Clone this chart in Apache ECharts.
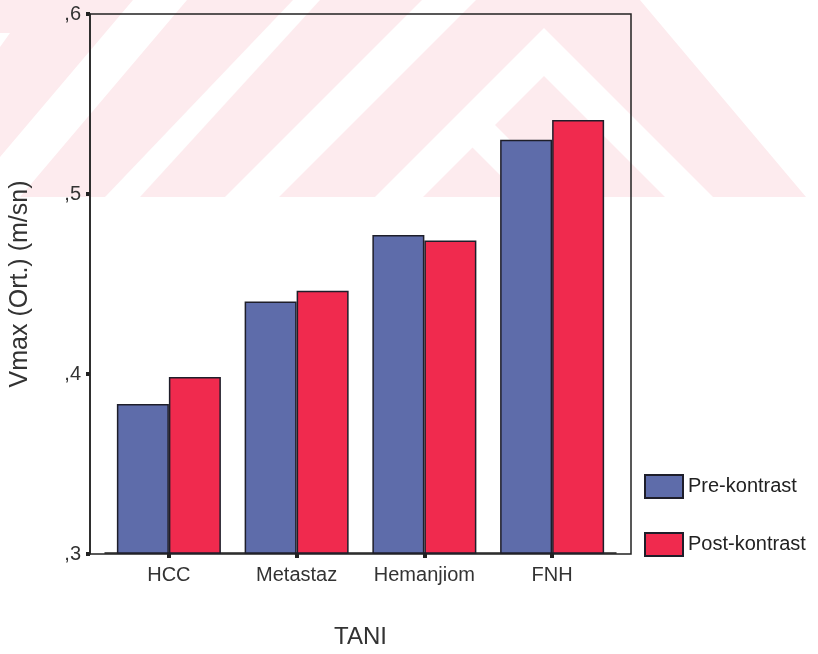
<!DOCTYPE html>
<html>
<head>
<meta charset="utf-8">
<title>Vmax - TANI</title>
<script src="https://cdn.jsdelivr.net/npm/echarts@6/dist/echarts.min.js"></script>
<style>
    html, body { margin: 0; padding: 0; background: #fff; }
    #chart { width: 818px; height: 654px; }
</style>
</head>
<body>
<div id="chart"></div>
<script>
var categories = ['HCC', 'Metastaz', 'Hemanjiom', 'FNH'];
var preKontrast = [0.383, 0.440, 0.477, 0.530];
var postKontrast = [0.398, 0.446, 0.474, 0.541];
var yTickLabels = { 3: ',3', 4: ',4', 5: ',5', 6: ',6' };

var font = '"Liberation Sans", Arial, sans-serif';
var ink = '#222';

// faint scan watermark behind the plot (decoration only)
var pink = '#fdebee';
var watermark = [
    [[0, 0], [640, 0], [806, 197], [0, 197]]
];
var whiteCuts = [
    [[0, 33], [10, 33], [0, 47]],
    [[133, 0], [187, 0], [20, 197], [-34, 197]],
    [[293, 0], [320, 0], [140, 197], [105, 197]],
    [[422, 0], [476, 0], [279, 197], [225, 197]],
    [[375, 197], [544, 28], [713, 197], [665, 197], [544, 76], [423, 197]],
    [[377, 197], [472, 102], [567, 197], [522, 197], [472, 147], [422, 197]]
];

var graphics = [];
watermark.forEach(function (pts) {
    graphics.push({ type: 'polygon', z: -20, silent: true, shape: { points: pts }, style: { fill: pink } });
});
whiteCuts.forEach(function (pts) {
    graphics.push({ type: 'polygon', z: -19, silent: true, shape: { points: pts }, style: { fill: '#fff' } });
});

var chart = echarts.init(document.getElementById('chart'));
chart.setOption({
    backgroundColor: 'transparent',
    animation: false,
    graphic: graphics,
    textStyle: { fontFamily: font },
    legend: {
        orient: 'vertical',
        left: 644,
        top: 474,
        padding: 0,
        itemWidth: 38,
        itemHeight: 23,
        itemGap: 33,
        icon: 'rect',
        textStyle: { fontSize: 20, color: ink, fontFamily: font },
        data: ['Pre-kontrast', 'Post-kontrast']
    },
    grid: [
        { left: 88, top: 14, width: 543, height: 540, show: true, borderColor: ink, borderWidth: 1.5, backgroundColor: 'transparent' },
        { left: 105, top: 14, width: 511, height: 540 }
    ],
    xAxis: [
        { gridIndex: 0, type: 'category', data: [''], show: false },
        {
            gridIndex: 1,
            type: 'category',
            data: categories,
            axisLine: { lineStyle: { color: ink, width: 1.5 } },
            axisTick: { show: true, interval: 0, alignWithLabel: true, length: 5, lineStyle: { color: ink, width: 4 } },
            axisLabel: { interval: 0, fontSize: 20, color: '#333', margin: 12, fontFamily: font },
            name: 'TANI',
            nameLocation: 'middle',
            nameGap: 72,
            nameTextStyle: { fontSize: 24, color: '#333', fontFamily: font }
        }
    ],
    yAxis: [
        {
            gridIndex: 0,
            type: 'value',
            min: 0.3,
            max: 0.6,
            interval: 0.1,
            splitLine: { show: false },
            axisLine: { show: true, lineStyle: { color: ink, width: 1.5 } },
            axisTick: { show: true, length: 4, lineStyle: { color: ink, width: 4 } },
            axisLabel: {
                fontSize: 20,
                color: '#333',
                margin: 9,
                fontFamily: font,
                formatter: function (v) { return yTickLabels[Math.round(v * 10)]; }
            },
            name: 'Vmax (Ort.) (m/sn)',
            nameLocation: 'middle',
            nameGap: 57,
            nameTextStyle: { fontSize: 25, color: '#333', fontFamily: font }
        },
        { gridIndex: 1, type: 'value', min: 0.3, max: 0.6, show: false }
    ],
    series: [
        {
            name: 'Pre-kontrast',
            type: 'bar',
            xAxisIndex: 1,
            yAxisIndex: 1,
            barWidth: 52,
            barGap: '0%',
            itemStyle: { color: '#5e6caa', borderColor: '#1e1e2a', borderWidth: 1.5 },
            data: preKontrast
        },
        {
            name: 'Post-kontrast',
            type: 'bar',
            xAxisIndex: 1,
            yAxisIndex: 1,
            barWidth: 52,
            barGap: '0%',
            itemStyle: { color: '#f02a4e', borderColor: '#1e1e2a', borderWidth: 1.5 },
            data: postKontrast
        }
    ]
});
</script>
</body>
</html>
